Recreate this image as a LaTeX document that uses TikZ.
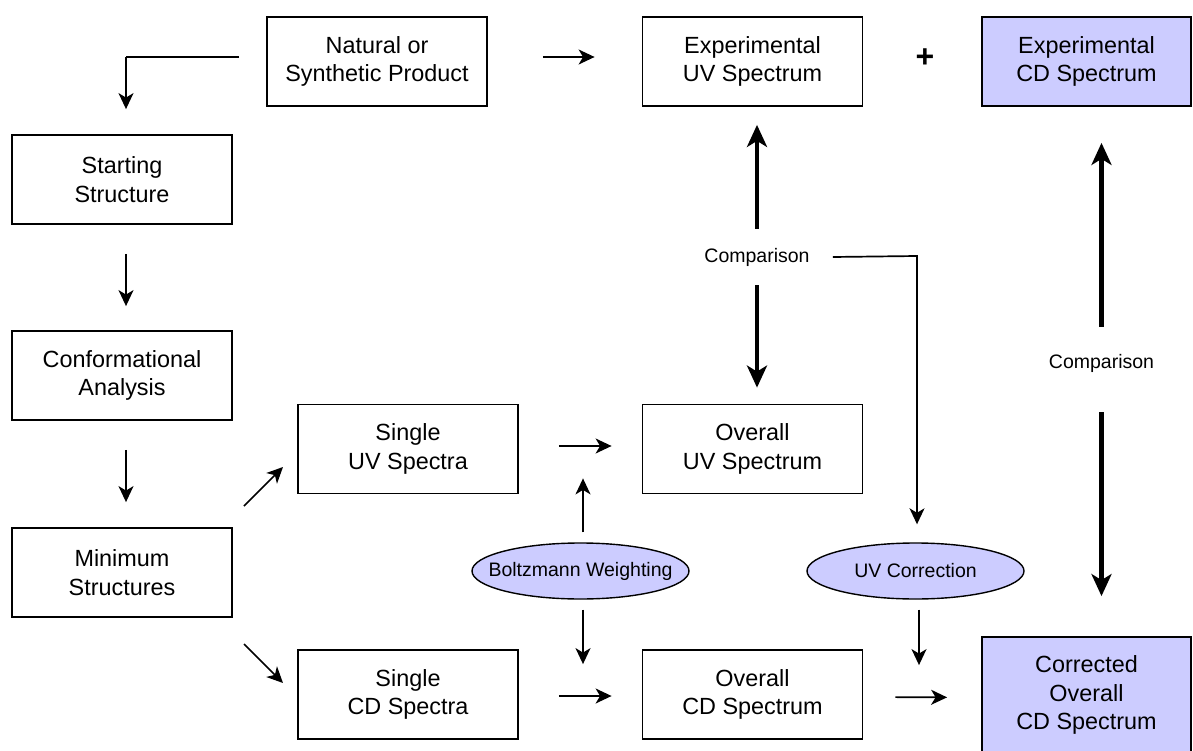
\documentclass[tikz,border=0pt]{standalone}
\usepackage{fontspec}
\setmainfont{Liberation Sans}
\usetikzlibrary{arrows.meta,shapes.geometric}
\definecolor{lav}{RGB}{204,204,255}
\tikzset{
  box/.style={draw, line width=1.8pt, minimum width=220pt, minimum height=89pt, align=center, inner sep=0pt, font=\fontsize{23.4}{28.5}\selectfont},
  oval/.style={draw, ellipse, line width=1.4pt, fill=lav, minimum width=217pt, minimum height=56pt, inner sep=0pt, font=\fontsize{19.5}{22}\selectfont},
  lbl/.style={inner sep=0pt, font=\fontsize{19.5}{22}\selectfont},
  thin/.style={line width=1.7pt, -{Stealth[length=16pt, width=15pt, inset=4.5pt]}},
  thick/.style={line width=4.5pt, -{Stealth[length=22pt, width=20pt, inset=6pt]}},
}
\begin{document}
\begin{tikzpicture}[x=1pt, y=-1pt]
\useasboundingbox (0,0) rectangle (1193,751);
% boxes
\node[box] (nat) at (377,61.5) {Natural or\\Synthetic Product};
\node[box] (expuv) at (752.5,61.5) {Experimental\\UV Spectrum};
\node[box, fill=lav, minimum width=209pt] (expcd) at (1086.5,61.5) {Experimental\\CD Spectrum};
\node[inner sep=0pt, font=\fontsize{32}{32}\selectfont\bfseries] (plus) at (925,58) {+};
\node[box] (start) at (122,179.5) {Starting\\Structure};
\node[box] (conf) at (122,375.5) {Conformational\\Analysis};
\node[box] (mini) at (122,572.5) {Minimum\\Structures};
\node[box] (suv) at (408,449) {Single\\UV Spectra};
\node[box] (ouv) at (752.5,449) {Overall\\UV Spectrum};
\node[box] (scd) at (408,694.5) {Single\\CD Spectra};
\node[box] (ocd) at (752.5,694.5) {Overall\\CD Spectrum};
\node[box, fill=lav, minimum width=209pt, minimum height=116pt] (ccd) at (1086.5,695) {Corrected\\Overall\\CD Spectrum};
\node[oval] (boltz) at (580.5,571) {\makebox[100pt][c]{Boltzmann Weighting}};
\node[oval] (uvc) at (915.5,571) {\makebox[100pt][c]{UV Correction}};
\node[lbl] (cmp1) at (757,257) {Comparison};
\node[lbl] (cmp2) at (1101.5,363) {Comparison};
% helper coordinates
\coordinate (tl) at (126,57);
\coordinate (ct) at (917,256);
% connectors
\draw[line width=1.7pt] ([yshift=4.5pt]nat.west) ++(-27,0) coordinate (n0) -- (tl);
\draw[thin, shorten >=25pt] (tl) -- (start.north -| tl);
\draw[thin, shorten <=55pt, shorten >=47pt] ([yshift=4.5pt]nat.east) -- ([yshift=4.5pt]expuv.west);
\draw[thin, shorten <=29pt, shorten >=24pt] ([xshift=4pt]start.south) -- ([xshift=4pt]conf.north);
\draw[thin, shorten <=29pt, shorten >=25pt] ([xshift=4pt]conf.south) -- ([xshift=4pt]mini.north);
\draw[thin] (244,506) -- (283,467);
\draw[thin] (244,644) -- (283,683);
\draw[thin, shorten <=40pt, shorten >=30pt] ([yshift=3pt]suv.east) -- ([yshift=3pt]ouv.west);
\draw[thin, shorten <=40pt, shorten >=30pt] ([yshift=-1.5pt]scd.east) -- ([yshift=-1.5pt]ocd.west);
\draw[thin, shorten <=32pt, shorten >=34pt] ([yshift=-2.5pt]ocd.east) -- ([yshift=-2.5pt]ccd.west);
\draw[thin, shorten <=10pt, shorten >=-16pt] ([xshift=2.5pt]boltz.north) -- ([xshift=2.5pt]suv.south -| boltz.north);
\draw[thin, shorten <=10pt, shorten >=-15pt] ([xshift=2.5pt]boltz.south) -- ([xshift=2.5pt]scd.north -| boltz.north);
\draw[thin, shorten <=10pt, shorten >=-16pt] ([xshift=3.5pt]uvc.south) -- ([xshift=3.5pt]ocd.north -| uvc.south);
\draw[thin, shorten >=18pt] (cmp1.east) ++(23,0) -- (ct) -- (ct |- uvc.north);
\draw[thick, shorten <=19pt, shorten >=18pt] (cmp1.north) -- (expuv.south -| cmp1.north);
\draw[thick, shorten <=19pt, shorten >=16pt] (cmp1.south) -- (ouv.north -| cmp1.south);
\draw[thick, shorten <=27pt, shorten >=36pt] (cmp2.north) -- (expcd.south -| cmp2.north);
\draw[thick, shorten <=40pt, shorten >=40pt] (cmp2.south) -- (ccd.north -| cmp2.south);
\end{tikzpicture}
\end{document}
